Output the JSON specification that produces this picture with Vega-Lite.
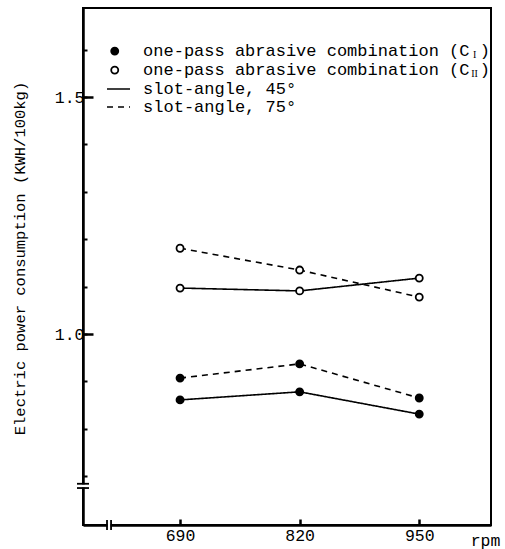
{
  "$schema": "https://vega.github.io/schema/vega-lite/v6.json",
  "width": 408,
  "height": 517,
  "autosize": {"type": "none"},
  "padding": {"left": 83, "top": 8, "right": 14, "bottom": 24},
  "background": "white",
  "config": {
    "view": {"stroke": "black", "strokeWidth": 2},
    "font": "Liberation Mono",
    "axis": {"grid": false, "domainColor": "black", "domainWidth": 2.5, "tickColor": "black", "labelColor": "black", "titleColor": "black", "labelFont": "Liberation Mono", "titleFont": "Liberation Mono", "titleFontWeight": "normal"}
  },
  "datasets": {
    "series": [
      {"rpm": 690, "value": 1.181, "comb": "CII", "angle": "75"},
      {"rpm": 820, "value": 1.135, "comb": "CII", "angle": "75"},
      {"rpm": 950, "value": 1.078, "comb": "CII", "angle": "75"},
      {"rpm": 690, "value": 1.097, "comb": "CII", "angle": "45"},
      {"rpm": 820, "value": 1.091, "comb": "CII", "angle": "45"},
      {"rpm": 950, "value": 1.118, "comb": "CII", "angle": "45"},
      {"rpm": 690, "value": 0.907, "comb": "CI", "angle": "75"},
      {"rpm": 820, "value": 0.937, "comb": "CI", "angle": "75"},
      {"rpm": 950, "value": 0.865, "comb": "CI", "angle": "75"},
      {"rpm": 690, "value": 0.861, "comb": "CI", "angle": "45"},
      {"rpm": 820, "value": 0.878, "comb": "CI", "angle": "45"},
      {"rpm": 950, "value": 0.831, "comb": "CI", "angle": "45"}
    ],
    "legendPts": [
      {"lx": 619, "ly": 1.597, "comb": "CI"},
      {"lx": 619, "ly": 1.557, "comb": "CII"}
    ],
    "legendLines": [
      {"lx": 610.6, "ly": 1.517, "angle": "45"},
      {"lx": 635.6, "ly": 1.517, "angle": "45"},
      {"lx": 610.6, "ly": 1.479, "angle": "75"},
      {"lx": 635.6, "ly": 1.479, "angle": "75"}
    ],
    "legendText": [
      {"tx": 649.8, "ty": 1.597, "label": "one-pass abrasive combination (C", "sub": "I", "close": ")"},
      {"tx": 649.8, "ty": 1.557, "label": "one-pass abrasive combination (C", "sub": "II", "close": ")"},
      {"tx": 649.8, "ty": 1.517, "label": "slot-angle, 45°", "sub": "", "close": ""},
      {"tx": 649.8, "ty": 1.479, "label": "slot-angle, 75°", "sub": "", "close": ""}
    ],
    "yBreak": [
      {"bx": 584.5, "by": 0.684},
      {"bx": 584.5, "by": 0.675}
    ],
    "yGap": [
      {"bx": 584.5, "by": 0.6795}
    ],
    "xBreak": [
      {"bx": 610.6, "by": 0.597},
      {"bx": 615.0, "by": 0.597}
    ],
    "xGap": [
      {"bx": 612.8, "by": 0.597}
    ]
  },
  "resolve": {"axis": {"x": "independent", "y": "independent"}},
  "layer": [
    {
      "data": {"name": "series"},
      "mark": {"type": "line", "color": "black", "strokeWidth": 1.6},
      "encoding": {
        "x": {"field": "rpm", "type": "quantitative", "scale": {"domain": [584.5, 1028], "nice": false, "zero": false},
          "axis": {"values": [690, 820, 950], "tickSize": -6, "tickWidth": 2.5, "labelFont": "Liberation Mono", "labelFontSize": 16.5, "labelPadding": 8, "labelBaseline": "top",
            "title": "rpm", "titleFont": "Liberation Mono", "titleFontSize": 16.5, "titleFontWeight": "normal", "titleX": 402, "titleY": 7, "titleAlign": "center", "titleBaseline": "top"}},
        "y": {"field": "value", "type": "quantitative", "scale": {"domain": [0.597, 1.688], "nice": false, "zero": false},
          "axis": {"values": [1.0, 1.5], "format": ".1f", "tickSize": -10, "tickWidth": 2.5, "labelFont": "Liberation Mono", "labelFontSize": 16.5, "labelPadding": 9,
            "title": "Electric power consumption (KWH/100kg)", "titleFont": "Liberation Mono", "titleFontSize": 15.5, "titleFontWeight": "normal", "titleAngle": 270, "titleX": -56, "titleY": 250, "titleAlign": "center", "titleBaseline": "bottom"}},
        "detail": [{"field": "comb"}],
        "strokeDash": {"field": "angle", "type": "nominal", "scale": {"domain": ["45", "75"], "range": [[1, 0], [6, 5]]}, "legend": null}
      }
    },
    {
      "data": {"name": "series"},
      "mark": {"type": "point", "shape": "circle", "filled": true, "size": 50, "stroke": "black", "strokeWidth": 1.8, "opacity": 1},
      "encoding": {
        "x": {"field": "rpm", "type": "quantitative", "axis": null},
        "y": {"field": "value", "type": "quantitative",
          "axis": {"values": [0.7, 0.8, 0.9, 1.0, 1.1, 1.2, 1.3, 1.4, 1.5, 1.6], "orient": "left", "tickSize": -4, "tickWidth": 2, "labels": false, "domain": false, "title": null}},
        "fill": {"field": "comb", "type": "nominal", "scale": {"domain": ["CI", "CII"], "range": ["black", "white"]}, "legend": null}
      }
    },
    {
      "data": {"name": "legendPts"},
      "mark": {"type": "point", "shape": "circle", "filled": true, "size": 50, "stroke": "black", "strokeWidth": 1.8, "opacity": 1},
      "encoding": {
        "x": {"field": "lx", "type": "quantitative", "axis": null},
        "y": {"field": "ly", "type": "quantitative", "axis": null},
        "fill": {"field": "comb", "type": "nominal", "legend": null}
      }
    },
    {
      "data": {"name": "legendLines"},
      "mark": {"type": "line", "color": "black", "strokeWidth": 1.6},
      "encoding": {
        "x": {"field": "lx", "type": "quantitative", "axis": null},
        "y": {"field": "ly", "type": "quantitative", "axis": null},
        "detail": {"field": "angle"},
        "strokeDash": {"field": "angle", "type": "nominal", "legend": null}
      }
    },
    {
      "data": {"name": "legendText"},
      "mark": {"type": "text", "align": "left", "baseline": "middle", "fontSize": 17, "font": "Liberation Mono", "color": "black"},
      "encoding": {
        "x": {"field": "tx", "type": "quantitative", "axis": null},
        "y": {"field": "ty", "type": "quantitative", "axis": null},
        "text": {"field": "label"}
      }
    },
    {
      "data": {"name": "legendText"},
      "mark": {"type": "text", "align": "center", "baseline": "middle", "fontSize": 10, "font": "Liberation Serif", "color": "black", "dx": 331.5, "dy": 4},
      "encoding": {
        "x": {"field": "tx", "type": "quantitative", "axis": null},
        "y": {"field": "ty", "type": "quantitative", "axis": null},
        "text": {"field": "sub"}
      }
    },
    {
      "data": {"name": "legendText"},
      "mark": {"type": "text", "align": "left", "baseline": "middle", "fontSize": 17, "font": "Liberation Mono", "color": "black", "dx": 336.6},
      "encoding": {
        "x": {"field": "tx", "type": "quantitative", "axis": null},
        "y": {"field": "ty", "type": "quantitative", "axis": null},
        "text": {"field": "close"}
      }
    },
    {
      "data": {"name": "yGap"},
      "mark": {"type": "tick", "orient": "horizontal", "color": "white", "size": 8, "thickness": 3, "opacity": 1},
      "encoding": {
        "x": {"field": "bx", "type": "quantitative", "axis": null},
        "y": {"field": "by", "type": "quantitative", "axis": null}
      }
    },
    {
      "data": {"name": "yBreak"},
      "mark": {"type": "tick", "orient": "horizontal", "color": "black", "size": 12, "thickness": 1.8, "opacity": 1},
      "encoding": {
        "x": {"field": "bx", "type": "quantitative", "axis": null},
        "y": {"field": "by", "type": "quantitative", "axis": null}
      }
    },
    {
      "data": {"name": "xGap"},
      "mark": {"type": "tick", "orient": "vertical", "color": "white", "size": 8, "thickness": 3, "opacity": 1},
      "encoding": {
        "x": {"field": "bx", "type": "quantitative", "axis": null},
        "y": {"field": "by", "type": "quantitative", "axis": null}
      }
    },
    {
      "data": {"name": "xBreak"},
      "mark": {"type": "tick", "orient": "vertical", "color": "black", "size": 10, "thickness": 1.8, "opacity": 1},
      "encoding": {
        "x": {"field": "bx", "type": "quantitative", "axis": null},
        "y": {"field": "by", "type": "quantitative", "axis": null}
      }
    }
  ]
}
